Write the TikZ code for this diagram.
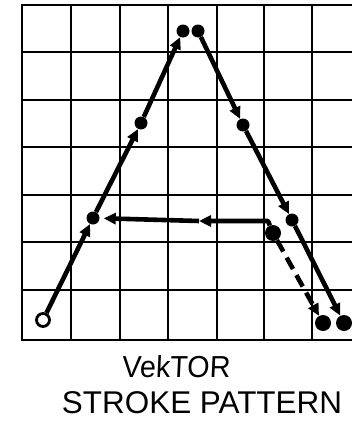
\documentclass[tikz,border=0pt]{standalone}
\usepackage{fontspec}
\setmainfont{Liberation Sans}
\usetikzlibrary{arrows.meta}
\begin{document}
\begin{tikzpicture}[x=1pt,y=-1pt,
  gridline/.style={line width=2.3pt, line cap=rect},
  stroke/.style={line width=4.6pt, line join=round, -{Triangle[length=12pt,width=11pt]}},
  dot/.style={circle, fill, inner sep=0pt, minimum size=13pt},
  bigdot/.style={circle, fill, inner sep=0pt, minimum size=16pt},
  opencirc/.style={circle, draw, line width=2.8pt, fill=white, inner sep=0pt, minimum size=13pt},
  label/.style={inner sep=0pt, anchor=center}]
\useasboundingbox (0,0) rectangle (352,423);
% grid
\foreach \x in {22,71,120,168,217,264,312} \draw[gridline] (\x,5) -- (\x,340);
\foreach \y in {5,52,100,147,195,242,290,340} \draw[gridline] (22,\y) -- (351,\y);
% nodes
\node[opencirc] (s) at (43,320) {};
\node[dot] (l1) at (93,218) {};
\node[dot] (l2) at (141,123) {};
\node[dot] (l3) at (183,31) {};
\node[dot] (r0) at (198,31) {};
\node[dot] (r1) at (243,125) {};
\node[dot] (r2) at (292,220) {};
\node[bigdot] (r3) at (344,323) {};
\node[bigdot] (d1) at (323,323) {};
\node[bigdot] (c0) at (273,233) {};
\coordinate (c1) at (268,221);
\coordinate (cm) at (199,221);
% strokes
\draw[stroke] (s) -- (l1);
\draw[stroke] (l1) -- (l2);
\draw[stroke] (l2) -- (l3);
\draw[stroke] (r0) -- (r1);
\draw[stroke] (r1) -- (r2);
\draw[stroke] (r2) -- (r3);
\draw[stroke] (c0) -- (c1) -- (cm);
\draw[stroke, shorten >=4pt] (cm) -- (l1);
\draw[stroke, dash pattern=on 13pt off 7pt] (c0) -- (d1);
% labels
\node[label] (t1) at (176,366.5) {\resizebox{108pt}{22pt}{\addfontfeature{FakeSlant=0.05}VekTOR}};
\node[label] (t2) at (202,402.5) {\resizebox{280pt}{!}{\fontsize{29}{29}\selectfont STROKE PATTERN}};
\end{tikzpicture}
\end{document}
